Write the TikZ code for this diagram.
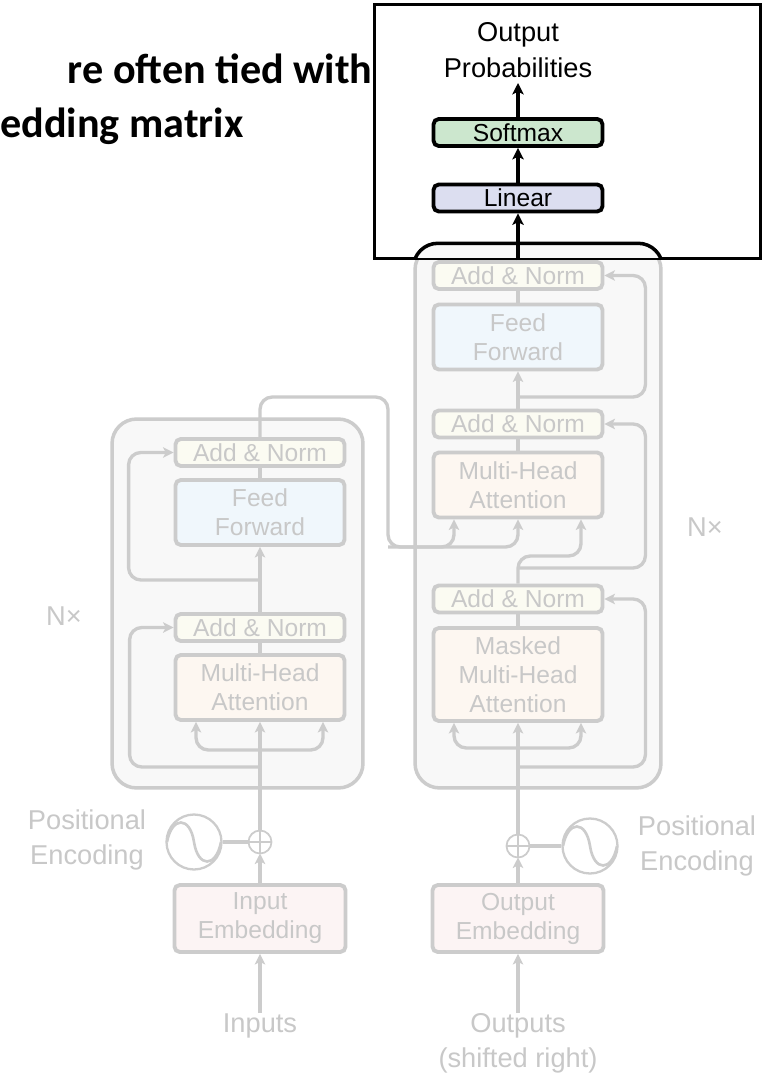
\documentclass[tikz,border=0pt]{standalone}
\usepackage{fontspec}
\setmainfont{Liberation Sans}
\newfontfamily\headfont{Carlito}
\usetikzlibrary{arrows.meta,calc}
\newcommand\boxfont{\fontsize{14}{16.5}\selectfont}
\newcommand\lblfont{\fontsize{15.5}{20}\selectfont}

\begin{document}
\begin{tikzpicture}[x=0.02cm,y=-0.02cm,
  faded/.style={draw=col_line, line width=2.2pt, rounded corners=3pt, text=col_text,
    align=center, font=\boxfont, inner sep=0pt, minimum width=3.38cm},
  addnorm/.style={faded, fill=col_an, minimum height=0.54cm},
  ffbox/.style={faded, fill=col_ff, minimum height=1.3cm},
  attbox/.style={faded, fill=col_att, minimum height=1.3cm},
  embbox/.style={faded, fill=col_emb, minimum width=3.42cm, minimum height=1.34cm},
  stack/.style={draw=col_line, line width=2pt, fill=col_stack, rounded corners=14pt,
    inner sep=0pt},
  lbl/.style={text=col_text, font=\lblfont, align=center, inner sep=0pt},
  link/.style={draw=col_line, line width=1.9pt, rounded corners=7pt},
  flow/.style={link, -{Stealth[length=6pt,width=6pt,inset=1.5pt]}},
  addop/.style={circle, draw=col_line, line width=1pt, fill=white, minimum size=0.46cm,
    inner sep=0pt, outer sep=0pt},
  posenc/.style={circle, draw=col_line, line width=1.3pt, fill=white, minimum size=1.1cm,
    inner sep=0pt},
  topbox/.style={draw=black, line width=2.2pt, rounded corners=3pt, align=center,
    font=\boxfont, inner sep=0pt, minimum width=3.38cm, minimum height=0.54cm},
  topflow/.style={draw=black, line width=1.9pt, -{Stealth[length=6.5pt,width=6.5pt,inset=1.5pt]}},
  headline/.style={inner sep=0pt, font=\headfont\bfseries\fontsize{24}{29}\selectfont},
]
%
\definecolor{col_line}{RGB}{204,204,204}
\definecolor{col_text}{RGB}{200,200,200}
\definecolor{col_stack}{RGB}{248,248,248}
\definecolor{col_an}{RGB}{251,251,242}
\definecolor{col_ff}{RGB}{240,247,252}
\definecolor{col_att}{RGB}{253,247,241}
\definecolor{col_emb}{RGB}{252,244,244}
\definecolor{col_soft}{RGB}{204,231,206}
\definecolor{col_lin}{RGB}{220,222,240}
%
\useasboundingbox[fill=white] (0,0) rectangle (775,1084);
%
% heading
\node[headline, anchor=base east] (head1) at (373,84) {re often tied with};
\node[headline, anchor=base west] (head2) at (0,138) {edding matrix};
%
% the two stacks
\node[stack, minimum width=5.02cm, minimum height=7.38cm] (enc) at (237.5,603.5) {};
\node[stack, minimum width=4.92cm, minimum height=10.86cm] (dec) at (538,516.5) {};
\node[lbl] (encN) at (64,616) {N×};
\node[lbl] (decN) at (705,527) {N×};
%
% encoder
\node[attbox] (encMHA) at (260,687.5) {Multi-Head\\Attention};
\node[addnorm] (encAN1) at (260,627.5) {Add \& Norm};
\node[ffbox] (encFF) at (260,512.5) {Feed\\Forward};
\node[addnorm] (encAN2) at (260,452.5) {Add \& Norm};
\node[embbox] (inEmb) at (260,918.5) {Input\\Embedding};
\node[addop] (inPlus) at (260,842) {};
\node[posenc] (inPE) at (194,842) {};
\node[lbl] (inPElbl) at (87,840) {Positional\\Encoding};
\node[lbl, anchor=north] (inputs) at (260,1013) {Inputs};
%
% decoder
\node[attbox, minimum height=1.86cm] (decMHA1) at (518,674.5) {Masked\\Multi-Head\\Attention};
\node[addnorm] (decAN1) at (518,599) {Add \& Norm};
\node[attbox] (decMHA2) at (518,485) {Multi-Head\\Attention};
\node[addnorm] (decAN2) at (518,424) {Add \& Norm};
\node[ffbox] (decFF) at (518,337) {Feed\\Forward};
\node[addnorm] (decAN3) at (518,275.5) {Add \& Norm};
\node[embbox] (outEmb) at (518,918.5) {Output\\Embedding};
\node[addop] (outPlus) at (518,846) {};
\node[posenc] (outPE) at (590,846) {};
\node[lbl] (outPElbl) at (697,846) {Positional\\Encoding};
\node[lbl, anchor=north] (outputs) at (518,1013) {Outputs\\(shifted right)};
%
% junctions
\coordinate (encQ) at (260,750);
\coordinate (encR1) at (260,767);
\coordinate (encR2) at (260,580);
\coordinate (xTurn) at (388,397);
\coordinate (xLow) at (388,547);
\coordinate (decQ) at (518,748);
\coordinate (decR1) at (518,767);
\coordinate (decR2) at (518,568);
\coordinate (qLow) at (518,556);
\coordinate (decR3) at (518,397);
%
% encoder wiring
\draw[flow] (inputs.north) -- (inEmb.south);
\draw[flow] (inEmb.north) -- (inPlus.south);
\draw[col_line, line width=1pt] (inPlus.north) -- (inPlus.south) (inPlus.west) -- (inPlus.east);
\draw[link, line width=2.4pt] (inPE.east) -- (inPlus.west);
\draw[col_line, line width=1.5pt] ($(inPE.center)+(-27,0)$) .. controls ($(inPE.center)+(-22,-26)$) and ($(inPE.center)+(-4,-26)$) .. (inPE.center)
  .. controls ($(inPE.center)+(4,26)$) and ($(inPE.center)+(22,26)$) .. ($(inPE.center)+(27,0)$);
\draw[flow] (inPlus.north) -- (encMHA.south);
\draw[flow] (encQ) -| ($(encMHA.south)+(-64,0)$);
\draw[flow] (encQ) -| ($(encMHA.south)+(63,0)$);
\draw[flow] (encR1) -| ($(encAN1.west)+(-44,0)$) -- (encAN1.west);
\draw[link] (encMHA.north) -- (encAN1.south);
\draw[flow] (encAN1.north) -- (encFF.south);
\draw[flow] (encR2) -| ($(encAN2.west)+(-45,0)$) -- (encAN2.west);
\draw[link] (encFF.north) -- (encAN2.south);
\draw[flow] (encAN2.north) |- (xTurn) -- (xLow) -| ($(decMHA2.south)+(-64,0)$);
\draw[flow] (xLow) -| (decMHA2.south);
%
% decoder wiring
\draw[flow] (outputs.north) -- (outEmb.south);
\draw[flow] (outEmb.north) -- (outPlus.south);
\draw[col_line, line width=1pt] (outPlus.north) -- (outPlus.south) (outPlus.west) -- (outPlus.east);
\draw[link, line width=2.4pt] (outPE.west) -- (outPlus.east);
\draw[col_line, line width=1.5pt] ($(outPE.center)+(-27,0)$) .. controls ($(outPE.center)+(-22,-26)$) and ($(outPE.center)+(-4,-26)$) .. (outPE.center)
  .. controls ($(outPE.center)+(4,26)$) and ($(outPE.center)+(22,26)$) .. ($(outPE.center)+(27,0)$);
\draw[flow] (outPlus.north) -- (decMHA1.south);
\draw[flow] (decQ) -| ($(decMHA1.south)+(-64,0)$);
\draw[flow] (decQ) -| ($(decMHA1.south)+(63,0)$);
\draw[flow] (decR1) -| ($(decAN1.east)+(41,0)$) -- (decAN1.east);
\draw[link] (decMHA1.north) -- (decAN1.south);
\draw[flow] (decAN1.north) -- (qLow) -| ($(decMHA2.south)+(63,0)$);
\draw[flow] (decR2) -| ($(decAN2.east)+(41,0)$) -- (decAN2.east);
\draw[link] (decMHA2.north) -- (decAN2.south);
\draw[flow] (decAN2.north) -- (decFF.south);
\draw[flow] (decR3) -| ($(decAN3.east)+(41,0)$) -- (decAN3.east);
\draw[link] (decFF.north) -- (decAN3.south);
%
% output head
\node[draw=black, line width=1.2pt, fill=white, minimum width=7.7cm, minimum height=5.06cm,
  inner sep=0pt] (hl) at (567.5,131.5) {};
\begin{scope}
  \clip (hl.south west) rectangle (hl.north east);
  \draw[draw=black, line width=2pt, fill=col_stack, rounded corners=14pt]
    (dec.south west) rectangle (dec.north east);
\end{scope}
\node[topbox, fill=col_lin] (linear) at (518,198) {Linear};
\node[topbox, fill=col_soft] (softmax) at (518,132.5) {Softmax};
\node[align=center, font=\lblfont, anchor=south, inner sep=3pt] (probs) at (518,83)
  {Output\\Probabilities};
\draw[topflow] (decAN3.north) -- (linear.south);
\draw[topflow] (linear.north) -- (softmax.south);
\draw[topflow] (softmax.north) -- (probs.south);
\draw[black, line width=1.2pt] (hl.south west) rectangle (hl.north east);
%
\end{tikzpicture}
\end{document}
